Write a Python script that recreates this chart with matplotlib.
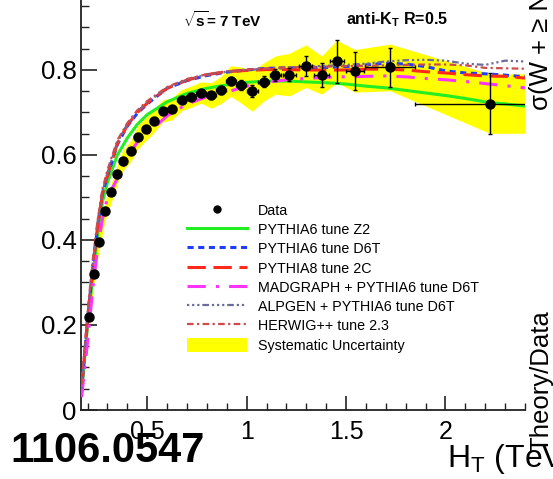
import matplotlib
matplotlib.use("Agg")
import matplotlib.pyplot as plt
from matplotlib.lines import Line2D
from matplotlib.patches import Patch
from matplotlib.ticker import MultipleLocator, FixedLocator, FixedFormatter
import numpy as np

plt.rcParams['font.family'] = ['Liberation Sans', 'DejaVu Sans']
plt.rcParams['mathtext.fontset'] = 'custom'
plt.rcParams['mathtext.rm'] = 'Liberation Sans'
plt.rcParams['mathtext.it'] = 'Liberation Sans:italic'
plt.rcParams['mathtext.bf'] = 'Liberation Sans:bold'

# ---- measured jet-multiplicity ratio vs H_T ----
data_x = [0.209, 0.233, 0.258, 0.288, 0.320, 0.350, 0.377, 0.417, 0.455, 0.494,
          0.536, 0.578, 0.623, 0.673, 0.720, 0.770, 0.822, 0.871, 0.920, 0.970,
          1.028, 1.087, 1.144, 1.214, 1.298, 1.377, 1.454, 1.544, 1.722, 2.223]
data_y = [0.219, 0.320, 0.396, 0.468, 0.512, 0.555, 0.587, 0.609, 0.643, 0.661,
          0.681, 0.704, 0.708, 0.729, 0.737, 0.747, 0.740, 0.753, 0.774, 0.765,
          0.751, 0.772, 0.788, 0.789, 0.809, 0.788, 0.820, 0.798, 0.806, 0.721]
data_yerr = [0.004, 0.004, 0.004, 0.004, 0.004, 0.004, 0.005, 0.005, 0.005, 0.005,
             0.005, 0.006, 0.006, 0.006, 0.007, 0.007, 0.008, 0.009, 0.010, 0.012,
             0.014, 0.013, 0.015, 0.015, 0.023, 0.028, 0.050, 0.044, 0.045, 0.071]
data_xerr_lo = [0.012, 0.012, 0.013, 0.015, 0.015, 0.015, 0.015, 0.02, 0.02, 0.02,
                0.02, 0.02, 0.022, 0.024, 0.024, 0.025, 0.025, 0.025, 0.025, 0.025,
                0.028, 0.028, 0.028, 0.033, 0.033, 0.037, 0.037, 0.045, 0.125, 0.377]
data_xerr_hi = [0.012, 0.012, 0.013, 0.015, 0.015, 0.015, 0.015, 0.02, 0.02, 0.02,
                0.02, 0.02, 0.022, 0.024, 0.024, 0.025, 0.025, 0.025, 0.025, 0.025,
                0.028, 0.028, 0.028, 0.033, 0.033, 0.037, 0.037, 0.045, 0.125, 0.400]
syst_err = [0.020, 0.020, 0.020, 0.022, 0.022, 0.022, 0.024, 0.025, 0.027, 0.027,
            0.027, 0.026, 0.026, 0.025, 0.025, 0.025, 0.030, 0.032, 0.036, 0.042,
            0.048, 0.045, 0.045, 0.050, 0.050, 0.045, 0.050, 0.050, 0.055, 0.070]
band_end_x = 2.40

# ---- generator predictions ----
mc_x = [0.17, 0.20, 0.225, 0.25, 0.275, 0.30, 0.35, 0.40, 0.45, 0.50, 0.60, 0.70,
        0.80, 0.90, 1.00, 1.10, 1.20, 1.30, 1.40, 1.50, 1.60, 1.70, 1.80, 1.90,
        2.00, 2.10, 2.20, 2.30, 2.40]
pythia6_z2 = [0.04, 0.20, 0.31, 0.41, 0.49, 0.535, 0.600, 0.640, 0.672, 0.695, 0.725, 0.745,
              0.757, 0.765, 0.771, 0.774, 0.774, 0.772, 0.770, 0.767, 0.762, 0.758, 0.752, 0.746,
              0.740, 0.733, 0.725, 0.720, 0.715]
pythia6_d6t = [0.05, 0.21, 0.33, 0.43, 0.51, 0.550, 0.625, 0.668, 0.698, 0.720, 0.757, 0.775,
               0.787, 0.795, 0.800, 0.804, 0.805, 0.805, 0.806, 0.808, 0.812, 0.816, 0.814, 0.808,
               0.798, 0.793, 0.791, 0.788, 0.784]
pythia8_2c = [0.05, 0.21, 0.33, 0.43, 0.51, 0.552, 0.627, 0.670, 0.700, 0.722, 0.757, 0.776,
              0.789, 0.796, 0.799, 0.801, 0.801, 0.800, 0.800, 0.800, 0.802, 0.802, 0.800, 0.796,
              0.793, 0.789, 0.786, 0.785, 0.781]
madgraph_d6t = [0.03, 0.16, 0.28, 0.38, 0.45, 0.500, 0.545, 0.595, 0.630, 0.650, 0.692, 0.720,
                0.737, 0.748, 0.762, 0.771, 0.777, 0.780, 0.783, 0.784, 0.785, 0.786, 0.784, 0.780,
                0.777, 0.773, 0.768, 0.763, 0.758]
alpgen_d6t = [0.05, 0.22, 0.34, 0.44, 0.515, 0.558, 0.630, 0.672, 0.702, 0.724, 0.758, 0.777,
              0.789, 0.796, 0.800, 0.803, 0.806, 0.808, 0.810, 0.812, 0.815, 0.820, 0.823, 0.824,
              0.822, 0.815, 0.812, 0.822, 0.820]
herwig_23 = [0.06, 0.23, 0.35, 0.445, 0.52, 0.565, 0.635, 0.675, 0.705, 0.727, 0.760, 0.779,
             0.790, 0.797, 0.801, 0.804, 0.806, 0.807, 0.808, 0.809, 0.810, 0.811, 0.812, 0.813,
             0.813, 0.811, 0.805, 0.804, 0.803]

y_ticks = [0, 0.2, 0.4, 0.6, 0.8]
y_tick_labels = ["0", "0.2", "0.4", "0.6", "0.8"]
x_ticks = [0.5, 1, 1.5, 2]
x_tick_labels = ["0.5", "1", "1.5", "2"]

W, H = 553, 479
fig = plt.figure(figsize=(W / 100, H / 100), dpi=100)


def fx(px):
    return px / W


def fy(py):
    return 1 - py / H


ax = fig.add_axes([fx(81), fy(410), (525 - 81) / W, 410 / H])
ax.set_xlim(0.167, 2.40)
ax.set_ylim(0, 0.9647)

# systematic band
bx = np.array(data_x + [band_end_x])
by = np.array(data_y + [data_y[-1]])
be = np.array(syst_err + [syst_err[-1]])
ax.fill_between(bx, by - be, by + be, color='#ffff00', lw=0, zorder=1)

lw_main = 2.2
styles = [
    (pythia6_z2, '#22ee22', dict(linestyle='-', lw=lw_main), "PYTHIA6 tune Z2"),
    (pythia6_d6t, '#1f3cff', dict(dashes=(2.0, 1.5), lw=lw_main), "PYTHIA6 tune D6T"),
    (pythia8_2c, '#ff2a1a', dict(dashes=(6.0, 2.5), lw=lw_main), "PYTHIA8 tune 2C"),
    (madgraph_d6t, '#ff33ff', dict(dashes=(6.0, 3.3, 1.0, 3.3), lw=lw_main), "MADGRAPH + PYTHIA6 tune D6T"),
    (alpgen_d6t, '#6c6c9c', dict(dashes=(1, 1.3, 1, 1.3, 1, 1.3, 3, 1.3), lw=1.6), "ALPGEN + PYTHIA6 tune D6T"),
    (herwig_23, '#cc4c4c', dict(dashes=(3, 1.5, 1, 1.5), lw=1.6), "HERWIG++ tune 2.3"),
]

handles = [Line2D([], [], marker='o', color='black', ls='none', ms=5)]
labels = ["Data"]
for vals, col, kw, lab in styles:
    ax.plot(mc_x, vals, color=col, zorder=3, **kw)
    handles.append(Line2D([], [], color=col, **kw))
    labels.append(lab)
handles.append(Patch(facecolor='#ffff00', edgecolor='none'))
labels.append("Systematic Uncertainty")

ax.errorbar(data_x, data_y, yerr=data_yerr, xerr=[data_xerr_lo, data_xerr_hi],
            fmt='o', color='black', ms=6.5, elinewidth=1.0, capsize=1.5,
            capthick=1.0, zorder=5)

leg_fs = 10.3
leg = ax.legend(handles, labels, loc='upper left', frameon=False,
                fontsize=leg_fs, handlelength=4.2, handleheight=1.15,
                handletextpad=0.77, labelspacing=0.3, borderpad=0,
                borderaxespad=0, numpoints=1)
leg.set_bbox_to_anchor(((187 - 81) / 444, (410 - 203) / 410), transform=ax.transAxes)

# axes styling
for s in ['top', 'right']:
    ax.spines[s].set_visible(False)
for s in ['left', 'bottom']:
    ax.spines[s].set_linewidth(1.3)
    ax.spines[s].set_color('#222222')

ax.yaxis.set_major_locator(FixedLocator(y_ticks))
ax.yaxis.set_major_formatter(FixedFormatter(y_tick_labels))
ax.yaxis.set_minor_locator(MultipleLocator(0.05))
ax.xaxis.set_major_locator(FixedLocator(x_ticks))
ax.xaxis.set_major_formatter(FixedFormatter(x_tick_labels))
ax.xaxis.set_minor_locator(MultipleLocator(0.1))
ax.tick_params(axis='y', which='major', direction='in', length=11.5, width=1.2,
               labelsize=18.5, pad=3, color='#222222')
ax.tick_params(axis='y', which='minor', direction='in', length=5.8, width=1.0, color='#222222')
ax.tick_params(axis='x', which='major', direction='in', length=10, width=1.2,
               labelsize=18, pad=7, color='#222222')
ax.tick_params(axis='x', which='minor', direction='in', length=5, width=1.0, color='#222222')

# annotations
fig.text(fx(183), fy(27), r"$\mathbf{\sqrt{s}}$= 7 TeV", fontsize=11,
         fontweight='bold', ha='left', va='baseline')
fig.text(fx(346), fy(24), r"anti-K$_\mathbf{T}$ R=0.5", fontsize=11.5,
         fontweight='bold', ha='left', va='baseline')
fig.text(fx(10), fy(462), "1106.0547", fontsize=30, fontweight='bold',
         ha='left', va='baseline')
fig.text(fx(447), fy(467), r"H$_\mathrm{T}$ (TeV)", fontsize=23,
         ha='left', va='baseline')
fig.text(fx(548), fy(452), "Theory/Data", fontsize=18.5, rotation=90,
         rotation_mode='anchor', ha='left', va='baseline')
fig.text(fx(548), fy(110), "σ(W + ≥ N jets) / σ(W + ≥ N-1 jets)", fontsize=18.5,
         rotation=90, rotation_mode='anchor', ha='left', va='baseline')

fig.savefig("out.png", dpi=100)
